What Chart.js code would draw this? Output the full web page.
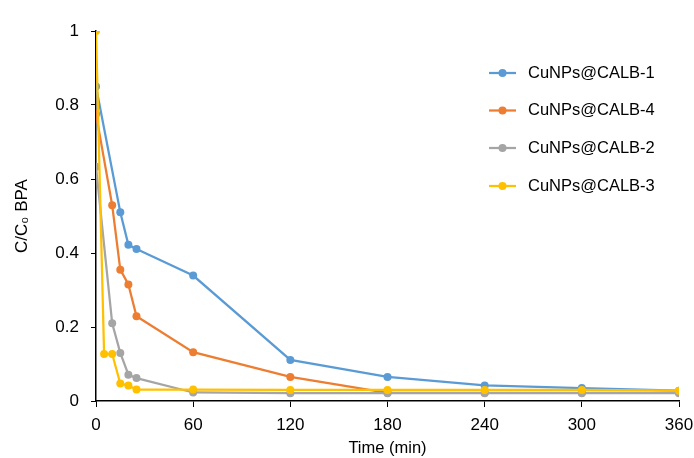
<!DOCTYPE html>
<html lang="en">
<head>
    <meta charset="UTF-8">
    <title>C/C0 BPA vs time</title>
    <script src="https://cdn.jsdelivr.net/npm/chart.js"></script>
    <style>
        html, body { margin: 0; padding: 0; background: #fff; }
        canvas { display: block; }
    </style>
</head>
<body>
    <canvas id="bpaChart" width="694" height="458"></canvas>

    <script>
        // Data (time in min, C/C0)
        const timesMain = [0, 15, 20, 25, 60, 120, 180, 240, 300, 360];
        const timesOther = [0, 10, 15, 20, 25, 60, 120, 180, 240, 300, 360];
        const timesCalb3 = [0, 5, 10, 15, 20, 25, 60, 120, 180, 240, 300, 360];

        const calb1 = [0.85, 0.51, 0.422, 0.411, 0.339, 0.111, 0.065, 0.042, 0.035, 0.028];
        const calb4 = [0.776, 0.529, 0.355, 0.315, 0.229, 0.132, 0.065, 0.022, 0.022, 0.022, 0.022];
        const calb2 = [0.633, 0.21, 0.13, 0.071, 0.062, 0.023, 0.021, 0.021, 0.021, 0.021, 0.021];
        const calb3 = [1.0, 0.127, 0.127, 0.047, 0.042, 0.031, 0.031, 0.03, 0.03, 0.03, 0.03, 0.028];

        const xTicks = [0, 60, 120, 180, 240, 300, 360];
        const yTicks = [0, 0.2, 0.4, 0.6, 0.8, 1];

        const seriesNames = ['CuNPs@CALB-1', 'CuNPs@CALB-4', 'CuNPs@CALB-2', 'CuNPs@CALB-3'];
        const seriesColors = ['#5B9BD5', '#ED7D31', '#A5A5A5', '#FFC000'];

        const fontFamily = '"Liberation Sans", Arial, "DejaVu Sans", sans-serif';

        function pts(xs, ys) {
            return xs.map((x, i) => ({ x: x, y: ys[i] }));
        }

        function makeSet(i, xs, ys) {
            return {
                label: seriesNames[i],
                data: pts(xs, ys),
                borderColor: seriesColors[i],
                backgroundColor: seriesColors[i],
                borderWidth: 2.25,
                pointRadius: 4,
                pointHoverRadius: 5,
                pointBorderWidth: 0,
                tension: 0,
                order: 4 - i // later series drawn on top, like the original
            };
        }

        // simple legend drawn inside the plot area, top right
        const insideLegend = {
            id: 'insideLegend',
            afterDraw(chart) {
                const c = chart.ctx;
                const x0 = 489, rowY = [73, 110.5, 148, 186];
                c.save();
                c.font = '16.5px ' + fontFamily;
                c.textBaseline = 'middle';
                chart.data.datasets.forEach((ds, i) => {
                    const y = rowY[i];
                    c.strokeStyle = ds.borderColor;
                    c.lineWidth = 2.25;
                    c.beginPath();
                    c.moveTo(x0, y);
                    c.lineTo(x0 + 27, y);
                    c.stroke();
                    c.fillStyle = ds.borderColor;
                    c.beginPath();
                    c.arc(x0 + 13.5, y, 4, 0, Math.PI * 2);
                    c.fill();
                    c.fillStyle = '#000';
                    c.fillText(ds.label, 528, y);
                });
                c.restore();
            }
        };

        const ctx = document.getElementById('bpaChart').getContext('2d');

        const bpaChart = new Chart(ctx, {
            type: 'line',
            data: {
                datasets: [
                    makeSet(0, timesMain, calb1),
                    makeSet(1, timesOther, calb4),
                    makeSet(2, timesOther, calb2),
                    makeSet(3, timesCalb3, calb3)
                ]
            },
            options: {
                responsive: false,
                animation: false,
                layout: {
                    padding: { top: 31, right: 15, bottom: 0, left: 0 }
                },
                plugins: {
                    legend: { display: false },
                    tooltip: { enabled: false }
                },
                scales: {
                    x: {
                        type: 'linear',
                        min: 0,
                        max: 360,
                        afterBuildTicks: (axis) => { axis.ticks = xTicks.map(v => ({ value: v })); },
                        grid: { drawOnChartArea: false, drawTicks: true, tickLength: 6, color: '#000' },
                        border: { color: '#000', width: 1.5 },
                        ticks: { color: '#000', font: { family: fontFamily, size: 17 }, padding: 8, maxRotation: 0 },
                        title: {
                            display: true,
                            text: 'Time (min)',
                            color: '#000',
                            font: { family: fontFamily, size: 16.5 },
                            padding: { top: 2, bottom: 0 }
                        },
                        afterFit: (axis) => {
                            axis.height = 57;
                            axis.paddingRight = 0; // let "360" run to the edge
                        }
                    },
                    y: {
                        min: 0,
                        max: 1,
                        afterBuildTicks: (axis) => { axis.ticks = yTicks.map(v => ({ value: v })); },
                        grid: { drawOnChartArea: false, drawTicks: true, tickLength: 5, color: '#000' },
                        border: { color: '#000', width: 1.5 },
                        ticks: {
                            color: '#000',
                            font: { family: fontFamily, size: 17 },
                            padding: 12,
                            callback: (v) => String(+v.toFixed(1))
                        },
                        title: {
                            display: true,
                            text: 'C/C\u2080 BPA',
                            color: '#000',
                            font: { family: fontFamily, size: 17 },
                            padding: { top: 12, bottom: 0 }
                        },
                        afterFit: (axis) => {
                            axis.width = 96;
                            axis.paddingTop = 0;
                        }
                    }
                }
            },
            plugins: [insideLegend]
        });
    </script>
</body>
</html>
